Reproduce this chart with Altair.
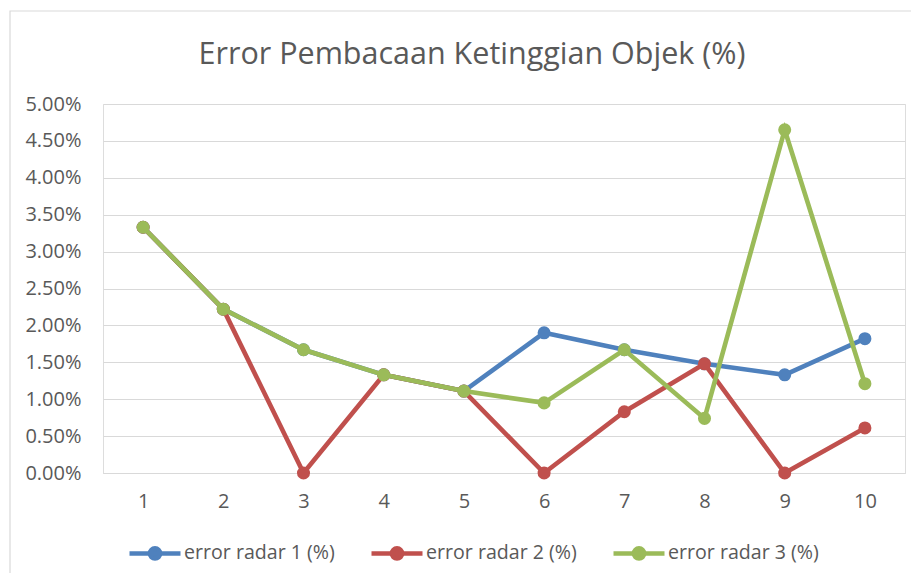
import altair as alt
import pandas as pd

categories = [1, 2, 3, 4, 5, 6, 7, 8, 9, 10]
series_names = ["error radar 1 (%)", "error radar 2 (%)", "error radar 3 (%)"]
radar1 = [3.33, 2.22, 1.67, 1.33, 1.11, 1.90, 1.67, 1.48, 1.33, 1.82]
radar2 = [3.33, 2.22, 0.00, 1.33, 1.11, 0.00, 0.83, 1.48, 0.00, 0.61]
radar3 = [3.33, 2.22, 1.67, 1.33, 1.11, 0.95, 1.67, 0.74, 4.65, 1.21]
y_ticks = [0, 0.5, 1.0, 1.5, 2.0, 2.5, 3.0, 3.5, 4.0, 4.5, 5.0]
colors = ["#4F81BD", "#C0504D", "#9BBB59"]
title_text = "Error Pembacaan Ketinggian Objek (%)"

rows = []
for name, vals in zip(series_names, [radar1, radar2, radar3]):
    for c, v in zip(categories, vals):
        rows.append({"cat": c, "val": v / 100.0, "series": name})
df = pd.DataFrame(rows)

FONT = "Open Sans"
GREY = "#595959"
LBL = 20

legend_path = "M-1,0L1,0M-0.2,0A0.2,0.2,0,1,1,0.2,0A0.2,0.2,0,1,1,-0.2,0Z"

color_enc = alt.Color(
    "series:N",
    scale=alt.Scale(domain=series_names, range=colors),
    legend=alt.Legend(
        title=None,
        orient="none",
        direction="horizontal",
        legendX=24,
        legendY=421,
        symbolType=legend_path,
        symbolSize=2601,
        symbolStrokeWidth=4.5,
        labelFont=FONT,
        labelFontSize=19.6,
        labelColor=GREY,
        labelOffset=1,
        columnPadding=27,
    ),
)

x_enc = alt.X(
    "cat:O",
    sort=categories,
    axis=alt.Axis(
        title=None,
        labelAngle=0,
        labelFont=FONT,
        labelFontSize=LBL,
        labelColor=GREY,
        labelPadding=18,
        ticks=False,
        grid=False,
        domainColor="#D9D9D9",
        domainWidth=1.2,
    ),
)
y_enc = alt.Y(
    "val:Q",
    scale=alt.Scale(domain=[0, 0.05], nice=False),
    axis=alt.Axis(
        title=None,
        values=[t / 100.0 for t in y_ticks],
        format=".2%",
        labelFont=FONT,
        labelFontSize=LBL,
        labelColor=GREY,
        labelPadding=22,
        ticks=False,
        domain=False,
        gridColor="#D9D9D9",
        gridWidth=1.2,
    ),
)

frame = alt.Chart(pd.DataFrame({"a": [0]})).mark_rect(
    fill="transparent", stroke="#D9D9D9", strokeWidth=1.2
).encode(
    x=alt.value(-93), x2=alt.value(815), y=alt.value(-93), y2=alt.value(485)
)

title = alt.Chart(pd.DataFrame({"t": [title_text]})).mark_text(
    font=FONT, fontSize=30.5, color=GREY, align="center", baseline="alphabetic"
).encode(text="t:N", x=alt.value(369), y=alt.value(-40))

layers = [frame, title]
base = alt.Chart(df)
for name in series_names:
    sub = base.transform_filter(alt.datum.series == name)
    layers.append(
        sub.mark_line(strokeWidth=4.6).encode(x=x_enc, y=y_enc, color=color_enc)
    )
    layers.append(
        sub.mark_point(filled=True, size=170, opacity=1).encode(
            x=x_enc, y=y_enc, color=color_enc
        )
    )

chart = (
    alt.layer(*layers)
    .properties(
        width=802,
        height=369,
        autosize="none",
        padding={"left": 95, "top": 96, "right": 6, "bottom": 100},
    )
    .configure_view(stroke=None)
    .configure(background="white")
)

chart.save("out.html", embed_options={"renderer": "svg", "actions": False})
